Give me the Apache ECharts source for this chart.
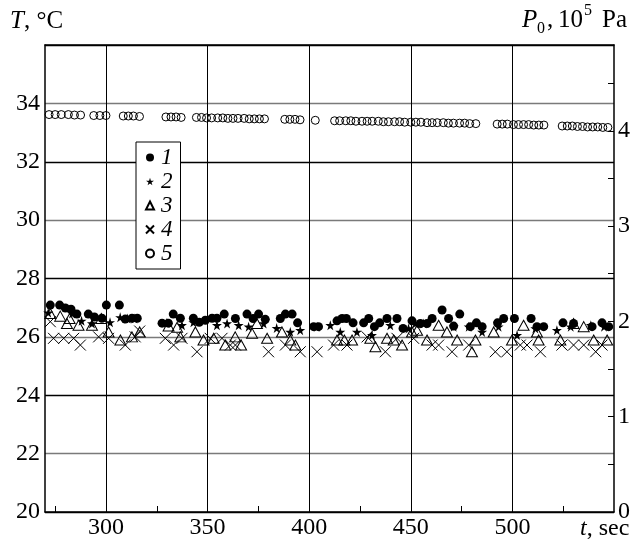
<!DOCTYPE html>
<html><head><meta charset="utf-8">
<script src="https://cdn.jsdelivr.net/npm/echarts@6/dist/echarts.min.js"></script>
<style>html,body{margin:0;padding:0;background:#fff}#c{width:633px;height:541px}</style>
</head><body><div id="c"></div>
<script>
// ---- data ----
const xRange = [270, 550];
const xGridValues = [300, 350, 400, 450, 500];
const xMinorTicks = [275, 325, 375, 425, 475, 525];
const xLabelValues = [300, 350, 400, 450, 500];
const tRange = [20, 36];
const pRange = [0, 4.9];
const legendNames = ['1', '2', '3', '4', '5'];

// series 1: filled circles, T (°C)
const series1 = [[272.6,27.09],[277.2,27.09],[280,26.99],[282.8,26.95],[285.7,26.78],[291.3,26.78],[294.3,26.68],[298,26.64],[300.2,27.09],[306.6,27.09],[309.5,26.61],[312.8,26.64],[315.4,26.64],[327.6,26.47],[330.7,26.47],[333.1,26.78],[336.6,26.64],[343,26.64],[345.9,26.5],[348.9,26.57],[352.2,26.64],[354.6,26.64],[358.2,26.78],[363.7,26.63],[369.4,26.78],[372.4,26.63],[375.1,26.78],[378.4,26.6],[385.8,26.63],[388.3,26.78],[391.6,26.78],[394.3,26.48],[402.2,26.35],[404.6,26.35],[413.7,26.55],[416.2,26.63],[418.3,26.63],[421.6,26.48],[426.8,26.48],[429.3,26.63],[432.1,26.35],[434.7,26.48],[438.3,26.63],[443.2,26.63],[446.2,26.29],[450.6,26.55],[454.7,26.46],[458,26.46],[460.5,26.63],[465.4,26.92],[468.6,26.63],[471.1,26.37],[474.1,26.78],[479.3,26.35],[482.3,26.48],[485.1,26.35],[492.7,26.48],[495.7,26.63],[501,26.63],[509.2,26.63],[512.1,26.35],[515.4,26.35],[524.9,26.48],[530.1,26.46],[539.2,26.35],[544.1,26.48],[547.4,26.35]];
// series 2: stars, T (°C)
const series2 = [[271.6,26.83],[283.3,26.8],[288,26.55],[293.1,26.46],[302,26.5],[307,26.67],[310.6,26.63],[314,26.63],[330,26.48],[337.4,26.4],[343,26.5],[354.6,26.4],[359.6,26.46],[365.3,26.4],[370.2,26.35],[377.6,26.46],[384,26.3],[390.7,26.17],[395.6,26.23],[403.9,26.35],[410.4,26.4],[415.3,26.17],[423.5,26.17],[430.9,26.06],[439.9,26.4],[448.9,26.29],[452.2,26.46],[456.3,26.46],[471.1,26.35],[478.5,26.35],[485.1,26.17],[493.2,26.35],[502.3,26.06],[511.3,26.29],[521.9,26.23],[528.7,26.35],[538.6,26.4],[545.1,26.35]];
// series 3: open triangles, T (°C)
const series3 = [[272.6,26.8],[277.5,26.71],[280.8,26.46],[282.1,26.63],[286.5,26.4],[293.1,26.4],[297.7,26.63],[301.3,26.17],[307.1,25.89],[312.8,26.0],[316.6,26.17],[330.8,26.37],[335,26.33],[336.6,26.0],[344,26.17],[348,25.89],[353,25.95],[358.7,25.72],[363.6,26.0],[366.5,25.72],[371.9,26.12],[374.3,26.46],[379.3,25.95],[386.6,26.17],[390.7,25.89],[393.2,25.72],[413.7,25.89],[417.3,25.89],[421.1,25.89],[430.1,25.95],[432.6,25.66],[438.3,25.95],[441.6,25.89],[445.7,25.72],[450.6,26.17],[453.1,26.23],[458,25.89],[463.7,26.4],[467.8,26.17],[472.8,25.89],[480.1,25.49],[481.8,25.89],[490.8,26.17],[499.8,25.89],[505.5,26.4],[512.1,26.17],[512.9,25.89],[523.6,25.89],[530.1,26.46],[535.1,26.35],[540,25.89],[546.6,25.89]];
// series 4: crosses, T (°C)
const series4 = [[272.6,26.52],[274.2,25.95],[279.2,25.95],[284.1,25.95],[287.4,25.72],[296.4,26.0],[301.3,25.95],[309.5,25.72],[314.4,26.0],[316.6,26.2],[329.2,25.95],[333.3,25.72],[337.4,25.95],[344.8,25.49],[351.3,25.95],[357.1,25.95],[361.2,25.72],[363.7,25.72],[380,25.49],[388.3,25.72],[395.6,25.49],[403.9,25.49],[412,25.72],[418.6,25.72],[428.5,26.0],[437.5,25.49],[443.2,25.95],[451.4,25.95],[460.5,25.72],[463.7,25.72],[470.3,25.49],[478.5,25.72],[491.6,25.49],[497.3,25.49],[503.9,25.72],[507.2,25.72],[513.8,25.49],[524.4,25.72],[530.1,25.72],[535.1,25.72],[541,25.49],[544.1,25.72]];
// series 5: open circles, P0 (10^5 Pa), right axis
const series5 = [[272,4.17],[275,4.17],[278,4.17],[281.5,4.17],[284.5,4.165],[287.5,4.165],[294,4.16],[297,4.16],[300,4.16],[308.5,4.155],[311,4.155],[313.5,4.155],[316.5,4.15],[329.5,4.145],[332,4.145],[334.5,4.145],[337,4.14],[344.5,4.14],[347,4.14],[349.5,4.135],[352,4.135],[355,4.135],[357.5,4.135],[360,4.13],[362.5,4.13],[365,4.13],[368,4.13],[370.5,4.125],[373,4.125],[375.5,4.125],[378,4.125],[388,4.12],[390.5,4.12],[393,4.12],[395.5,4.115],[403,4.11],[412.5,4.105],[415,4.105],[418,4.105],[420.5,4.105],[423,4.1],[426,4.1],[428.5,4.1],[431,4.1],[434,4.1],[436.5,4.095],[439,4.095],[442,4.095],[444.5,4.095],[447,4.09],[450,4.09],[452.5,4.09],[455,4.09],[458,4.085],[460.5,4.085],[463,4.085],[466,4.085],[468.5,4.08],[471,4.08],[474,4.08],[476.5,4.08],[479,4.075],[482,4.075],[492.5,4.07],[495,4.07],[497.5,4.07],[500.5,4.065],[503,4.065],[505.5,4.065],[508,4.065],[510.5,4.06],[513,4.06],[515.5,4.06],[524.5,4.05],[527,4.05],[529.5,4.05],[532,4.045],[534.5,4.045],[537,4.04],[539.5,4.04],[542,4.04],[544.5,4.035],[547,4.035]];

// ---- chart ----
const FONT = 'Liberation Serif';
const FS = 24;   // tick labels
const TS = 25;   // axis titles
const STAR = 'path://M50,0L61,35L98,35L68,57L79,91L50,70L21,91L32,57L2,35L39,35Z';
const CROSS = 'path://M0,0L10,10M10,0L0,10';
const chart = echarts.init(document.getElementById('c'), null, {renderer: 'canvas'});
const txt = (text, x, y, size, italic) => ({
  type: 'text', x: x, y: y, z: 10,
  style: {text: text, fontFamily: FONT, fontSize: size, fontStyle: italic ? 'italic' : 'normal', fill: '#000'}
});
chart.setOption({
  animation: false,
  backgroundColor: '#fff',
  grid: {left: 45, right: 19, top: 45, bottom: 29},
  xAxis: [{
    type: 'value', min: xRange[0], max: xRange[1], position: 'bottom',
    axisLine: {show: true, lineStyle: {color: '#000', width: 1.5}},
    axisTick: {show: true, inside: true, length: 6, customValues: xMinorTicks, lineStyle: {color: '#000', width: 1}},
    axisLabel: {customValues: xLabelValues, color: '#000', fontFamily: FONT, fontSize: FS, margin: 4},
    splitLine: {show: false}
  }, {
    type: 'value', min: xRange[0], max: xRange[1], position: 'top',
    axisLine: {show: true, lineStyle: {color: '#000', width: 1.5}},
    axisTick: {show: false}, axisLabel: {show: false}, splitLine: {show: false}
  }],
  yAxis: [{
    type: 'value', min: tRange[0], max: tRange[1], interval: 2, position: 'left',
    axisLine: {show: true, lineStyle: {color: '#000', width: 1.5}},
    axisTick: {show: false},
    axisLabel: {color: '#000', fontFamily: FONT, fontSize: FS, margin: 5,
      formatter: v => (v >= tRange[1] ? '' : String(v))},
    splitLine: {show: true, lineStyle: {color: ['#000', '#7a7a7a'], width: 1.4}}
  }, {
    type: 'value', min: pRange[0], max: pRange[1], interval: 0.5, position: 'right',
    axisLine: {show: true, lineStyle: {color: '#000', width: 1.5}},
    axisTick: {show: true, inside: true, length: 6, lineStyle: {color: '#000', width: 1}},
    axisLabel: {color: '#000', fontFamily: FONT, fontSize: FS, margin: 4,
      formatter: v => (Number.isInteger(v) ? String(v) : '')},
    splitLine: {show: false}
  }],
  legend: {
    data: legendNames, orient: 'vertical', left: 136, top: 142,
    padding: [4, 8, 4, 9], itemGap: 1, itemWidth: 8, itemHeight: 8,
    backgroundColor: '#fff', borderColor: '#000', borderWidth: 1,
    selectedMode: false,
    textStyle: {color: '#000', fontFamily: FONT, fontSize: 23, fontStyle: 'italic', padding: [0, 0, 0, 2]}
  },
  graphic: [
    {type: 'text', x: 10, y: 9, z: 10, style: {text: '{i|T}, °C', fontFamily: FONT, fontSize: TS, fill: '#000',
      rich: {i: {fontFamily: FONT, fontSize: TS, fontStyle: 'italic'}}}},
    txt('P', 522, 8, TS, true),
    txt('0', 537, 21, 16, false),
    txt(',', 547, 8, TS, false),
    txt('10', 558, 8, TS, false),
    txt('5', 584, 3, 16, false),
    txt('Pa', 602, 8, TS, false),
    {type: 'text', x: 580, y: 517, z: 10, style: {text: '{i|t}, sec', fontFamily: FONT, fontSize: FS, fill: '#000',
      rich: {i: {fontFamily: FONT, fontSize: FS, fontStyle: 'italic'}}}}
  ],
  series: [
    {name: 'grid', type: 'line', data: [], silent: true, z: 1,
      markLine: {silent: true, symbol: ['none', 'none'], label: {show: false},
        lineStyle: {color: '#000', width: 1, type: 'solid'},
        emphasis: {disabled: true},
        data: xGridValues.map(v => ({xAxis: v}))}},
    {name: '1', type: 'scatter', data: series1, symbol: 'circle', symbolSize: 9, z: 3,
      itemStyle: {color: '#000', opacity: 1}},
    {name: '2', type: 'scatter', data: series2, symbol: STAR, symbolSize: 10, z: 3,
      itemStyle: {color: '#000', opacity: 1}},
    {name: '3', type: 'scatter', data: series3, symbol: 'triangle', symbolSize: [11, 10], z: 3,
      itemStyle: {color: 'rgba(0,0,0,0)', borderColor: '#000', borderWidth: 1, opacity: 1}},
    {name: '4', type: 'scatter', data: series4, symbol: CROSS, symbolSize: 11, z: 3,
      itemStyle: {color: 'rgba(0,0,0,0)', borderColor: '#000', borderWidth: 1, opacity: 1}},
    {name: '5', type: 'scatter', data: series5, yAxisIndex: 1, symbol: 'circle', symbolSize: 8, z: 3,
      itemStyle: {color: 'rgba(0,0,0,0)', borderColor: '#000', borderWidth: 1, opacity: 1}}
  ]
});
</script></body></html>
